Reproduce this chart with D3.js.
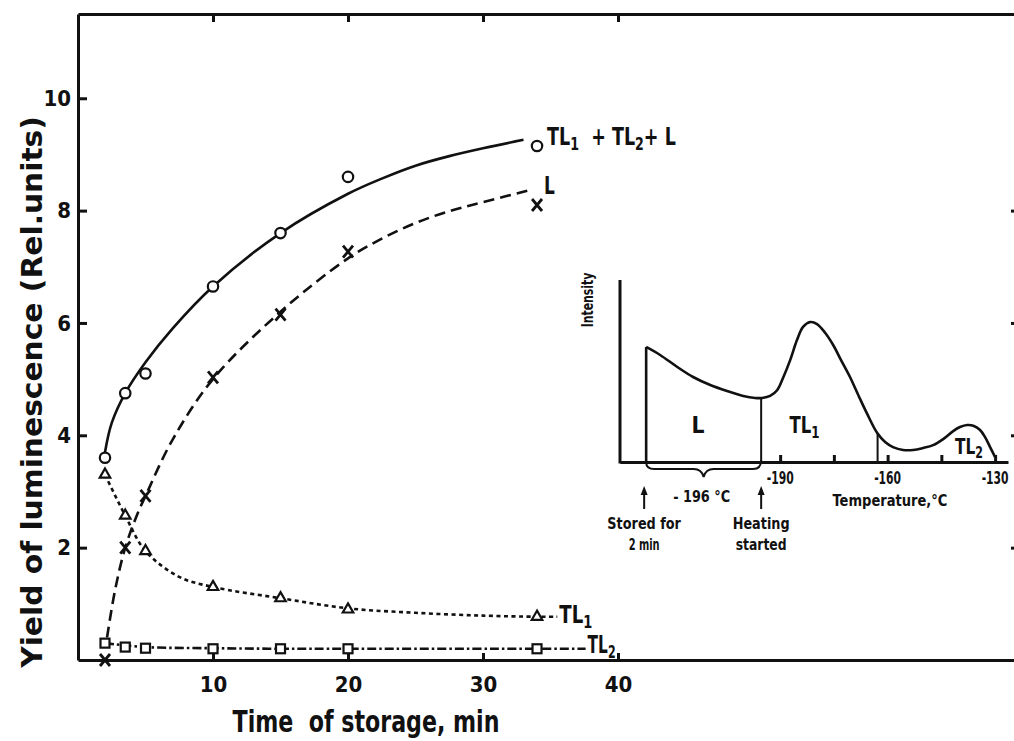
<!DOCTYPE html>
<html>
<head>
<meta charset="utf-8">
<script src="https://cdn.jsdelivr.net/npm/d3@7"></script>
<style>
  html, body { margin: 0; padding: 0; background: #fff; }
  svg { display: block; }
  text { font-family: 'DejaVu Sans Condensed', 'DejaVu Sans', sans-serif; font-weight: bold; fill: #111; white-space: pre; }
</style>
</head>
<body>
<svg id="chart" width="1014" height="741"></svg>
<script>
// ---- Main plot: luminescence yield vs. storage time ----
const timeMin    = [2, 3.5, 5, 10, 15, 20, 34];
const totalYield = [3.6, 4.75, 5.1, 6.65, 7.6, 8.6, 9.15];   // TL1 + TL2 + L  (circles)
const lumYield   = [0.0, 2.0, 2.92, 5.03, 6.15, 7.27, 8.1];  // L              (crosses)
const tl1Yield   = [3.3, 2.57, 1.94, 1.3, 1.1, 0.9, 0.77];   // TL1            (triangles)
const tl2Yield   = [0.3, 0.23, 0.21, 0.2, 0.2, 0.2, 0.2];    // TL2            (squares)

// hand-drawn trend curves through the measurements
const totalFitT = [2, 2.5, 3.5, 5, 7, 10, 15, 20, 22.5, 25, 27.5, 30, 33];
const totalFitY = [3.7, 4.22, 4.75, 5.3, 5.9, 6.65, 7.6, 8.3, 8.57, 8.8, 8.97, 9.11, 9.26];
const lumFitT   = [2.15, 2.75, 3.5, 4.4, 5, 7, 10, 15, 20, 22.5, 25, 27.5, 30, 33.7];
const lumFitY   = [0.4, 1.25, 2.0, 2.6, 2.92, 3.92, 5.0, 6.2, 7.15, 7.5, 7.78, 7.99, 8.15, 8.38];
const tl1FitT   = [2, 3.5, 5, 7.5, 10, 15, 20, 25, 30, 34, 35.5];
const tl1FitY   = [3.3, 2.57, 1.94, 1.48, 1.3, 1.1, 0.92, 0.84, 0.79, 0.77, 0.77];
const tl2FitT   = [2, 5, 10, 15, 20, 34, 37.6];
const tl2FitY   = [0.3, 0.23, 0.21, 0.2, 0.2, 0.2, 0.2];

const xTicks = [10, 20, 30, 40];
const yTicks = [2, 4, 6, 8, 10];
const rightTicks = [2, 4, 6, 8];

// ---- Inset: glow curve (intensity vs. temperature) ----
const glowT = [-227.4, -223.5, -218.7, -214.3, -209.5, -204.8, -200.3, -197.0, -195.0, -192.8,
               -190.8, -189.2, -187.2, -185.3, -183.6, -181.6, -179.7, -177.4, -175.2, -173.0,
               -170.5, -168.2, -165.7, -162.9, -160.7, -158.5, -155.7, -152.9, -150.1, -147.3,
               -144.5, -141.7, -139.8, -137.8, -135.9, -134.2, -132.8, -131.4, -130.0];
const glowI = [6.32, 5.88, 5.22, 4.67, 4.23, 3.90, 3.63, 3.52, 3.52, 3.63,
               3.96, 4.62, 5.60, 6.70, 7.42, 7.69, 7.58, 7.09, 6.43, 5.60,
               4.67, 3.68, 2.64, 1.59, 1.10, 0.82, 0.66, 0.66, 0.77, 0.93,
               1.26, 1.70, 1.92, 2.03, 1.98, 1.76, 1.37, 0.82, 0.27];
const heatStartT = -195.3;   // end of storage at -196 °C, heating begins
const tl1EndT = -162.8;      // boundary between TL1 and TL2
const insetTicks = [-190, -175, -160, -145, -130];
const insetTickLabels = [-190, -160, -130];

const svg = d3.select('#chart');
const x = d3.scaleLinear().domain([0, 69.33]).range([78, 1014]);
const y = d3.scaleLinear().domain([0, 11.5]).range([660, 14]);

// helper: text made of normal / subscript parts, squeezed horizontally to a width
function label(parent, px, py, parts, size, width, anchor, rotate) {
  const g = parent.append('g').attr('transform', `translate(${px},${py})` + (rotate ? ` rotate(${rotate})` : ''));
  const t = g.append('text').attr('font-size', size).attr('text-anchor', anchor || 'start');
  let sub = false;
  parts.forEach(p => {
    const isSub = Array.isArray(p);
    const str = isSub ? p[0] : p;
    const ts = t.append('tspan').text(str);
    if (isSub && !sub) { ts.attr('dy', size * 0.22).attr('font-size', size * 0.72); sub = true; }
    else if (!isSub && sub) { ts.attr('dy', -size * 0.22); sub = false; }
    else if (isSub) ts.attr('font-size', size * 0.72);
  });
  if (width) {
    const w = t.node().getBBox().width;
    t.attr('transform', `scale(${width / w},1)`);
  }
  return g;
}

// ---- frame and axes ----
const axisStyle = g => {
  g.selectAll('path.domain').attr('stroke', '#111').attr('stroke-width', 3);
  g.selectAll('.tick line').attr('stroke', '#111').attr('stroke-width', 3);
  g.selectAll('.tick text').attr('font-size', 22).attr('fill', '#111')
    .attr('font-family', "'DejaVu Sans Condensed', 'DejaVu Sans', sans-serif").attr('font-weight', 'bold');
};

svg.append('g').attr('transform', `translate(0,${y(0)})`)
  .call(d3.axisBottom(x).tickValues(xTicks).tickSize(-7).tickSizeOuter(0).tickPadding(16))
  .call(axisStyle);
svg.append('g').attr('transform', `translate(0,${y(11.5)})`)
  .call(d3.axisTop(x).tickValues(xTicks).tickSize(-8).tickSizeOuter(0).tickFormat(''))
  .call(axisStyle);
svg.append('g').attr('transform', `translate(${x(0)},0)`)
  .call(d3.axisLeft(y).tickValues(yTicks).tickSize(-9).tickSizeOuter(0).tickPadding(7))
  .call(axisStyle);
svg.append('g').attr('transform', `translate(1017,0)`)
  .call(d3.axisRight(y).tickValues(rightTicks).tickSize(-6).tickSizeOuter(0).tickFormat(''))
  .call(axisStyle);

// axis titles
label(svg, 42, 392, ['Yield of luminescence (Rel.units)'], 28, 553, 'middle', -90);
label(svg, 366, 732, ['Time  of storage, min'], 30, 267, 'middle');

// ---- curves ----
const curveLine = d3.line().x(d => x(d[0])).y(d => y(d[1])).curve(d3.curveCatmullRom.alpha(0.5));
const zip = (a, b) => a.map((v, i) => [v, b[i]]);
const curves = [
  { T: totalFitT, Y: totalFitY, dash: null },
  { T: lumFitT, Y: lumFitY, dash: '11,6' },
  { T: tl1FitT, Y: tl1FitY, dash: '4,3.5' },
  { T: tl2FitT, Y: tl2FitY, dash: '9,3,2.5,3' }
];
curves.forEach(c => {
  svg.append('path').datum(zip(c.T, c.Y)).attr('d', curveLine)
    .attr('fill', 'none').attr('stroke', '#111').attr('stroke-width', 2.6)
    .attr('stroke-dasharray', c.dash);
});

// ---- markers ----
const mk = svg.append('g').attr('stroke', '#111').attr('stroke-width', 2.2).attr('fill', '#fff');
zip(timeMin, totalYield).forEach(d => mk.append('circle').attr('cx', x(d[0])).attr('cy', y(d[1])).attr('r', 5.2));
zip(timeMin, tl1Yield).forEach(d => mk.append('path')
  .attr('d', d3.symbol(d3.symbolTriangle, 48)())
  .attr('transform', `translate(${x(d[0])},${y(d[1])})`));
zip(timeMin, tl2Yield).forEach(d => mk.append('rect')
  .attr('x', x(d[0]) - 4.5).attr('y', y(d[1]) - 4.5).attr('width', 9).attr('height', 9));
zip(timeMin, lumYield).forEach(d => {
  const cx = x(d[0]), cy = y(d[1]);
  mk.append('path').attr('fill', 'none').attr('stroke-width', 2.8)
    .attr('d', `M${cx - 5},${cy - 6}L${cx + 5},${cy + 6}M${cx + 5},${cy - 6}L${cx - 5},${cy + 6}`);
});

// curve labels
const lastI = timeMin.length - 1;
label(svg, x(timeMin[lastI]) + 10, y(totalYield[lastI]) - 1, ['TL', ['1'], '  + TL', ['2'], '+ L'], 24, 129);
label(svg, x(timeMin[lastI]) + 7, y(lumYield[lastI]) - 11, ['L'], 24, 11);
label(svg, x(tl1FitT[tl1FitT.length - 1]) + 2, y(tl1Yield[lastI]) + 6, ['TL', ['1']], 25, 33);
label(svg, x(tl2FitT[tl2FitT.length - 1]) + 2, y(tl2Yield[lastI]) + 4, ['TL', ['2']], 25, 28);

// ---- inset ----
const ix = d3.scaleLinear().domain([-234.7, -126.4]).range([620, 1008]);
const iy = d3.scaleLinear().domain([0, 10]).range([462, 280]);
const inset = svg.append('g');

inset.append('g').attr('transform', `translate(0,${iy(0)})`)
  .call(d3.axisBottom(ix).tickValues(insetTicks).tickSize(-7).tickSizeOuter(0).tickFormat(''))
  .call(axisStyle);
inset.append('line').attr('x1', ix.range()[0]).attr('x2', ix.range()[0])
  .attr('y1', iy(0) + 1.5).attr('y2', iy(10)).attr('stroke', '#111').attr('stroke-width', 3);

const glow = zip(glowT, glowI);
const iline = d3.line().x(d => ix(d[0])).y(d => iy(d[1])).curve(d3.curveCatmullRom.alpha(0.5));
inset.append('path').datum(glow).attr('d', iline)
  .attr('fill', 'none').attr('stroke', '#111').attr('stroke-width', 2.6);

// vertical separators under the glow curve
const glowAt = t => {
  for (let i = 0; i < glowT.length - 1; i++) {
    if (t >= glowT[i] && t <= glowT[i + 1]) {
      const f = (t - glowT[i]) / (glowT[i + 1] - glowT[i]);
      return glowI[i] + f * (glowI[i + 1] - glowI[i]);
    }
  }
  return 0;
};
[glowT[0], heatStartT, tl1EndT].forEach(t => {
  inset.append('line').attr('x1', ix(t)).attr('x2', ix(t))
    .attr('y1', iy(0)).attr('y2', iy(glowAt(t)))
    .attr('stroke', '#111').attr('stroke-width', t === glowT[0] ? 2.6 : 2);
});

// tick labels and titles of the inset
insetTickLabels.forEach(t => label(inset, ix(t), 484, [String(t)], 17, 27, 'middle'));
label(inset, 890, 506, ['Temperature,°C'], 16, 115, 'middle');
label(inset, 593, 300, ['Intensity'], 15, 55, 'middle', -90);
label(inset, ix(-212.9), iy(1.6), ['L'], 23, 13, 'middle');
label(inset, ix(-183.2), iy(1.6), ['TL', ['1']], 23, 30, 'middle');
label(inset, ix(-137.3), iy(0.45), ['TL', ['2']], 21, 28, 'middle');

// brace spanning the storage period at -196 °C
const bL = ix(glowT[0]), bR = ix(heatStartT), bM = (bL + bR) / 2, b0 = iy(0);
inset.append('path')
  .attr('d', `M${bL},${b0} Q${bL},${b0 + 7} ${bL + 8},${b0 + 7} L${bM - 10},${b0 + 7} Q${bM - 2},${b0 + 7} ${bM},${b0 + 15}
              Q${bM + 2},${b0 + 7} ${bM + 10},${b0 + 7} L${bR - 8},${b0 + 7} Q${bR},${b0 + 7} ${bR},${b0 - 2}`)
  .attr('fill', 'none').attr('stroke', '#111').attr('stroke-width', 2);
label(inset, bM - 2, 502, ['- 196 °C'], 16, 57, 'middle');

// arrows marking the start of storage and of heating
[[bL - 2, ['Stored for', '2 min']], [bR, ['Heating', 'started']]].forEach(([ax, lines]) => {
  inset.append('line').attr('x1', ax).attr('x2', ax).attr('y1', 509).attr('y2', 492)
    .attr('stroke', '#111').attr('stroke-width', 2);
  inset.append('path').attr('d', `M${ax},${486} L${ax - 3.5},${495} L${ax + 3.5},${495} Z`).attr('fill', '#111');
  label(inset, ax, 529, [lines[0]], 15, lines[0] === 'Stored for' ? 74 : 57, 'middle');
  label(inset, ax, 550, [lines[1]], 15, lines[1] === '2 min' ? 31 : 51, 'middle');
});
</script>
</body>
</html>
